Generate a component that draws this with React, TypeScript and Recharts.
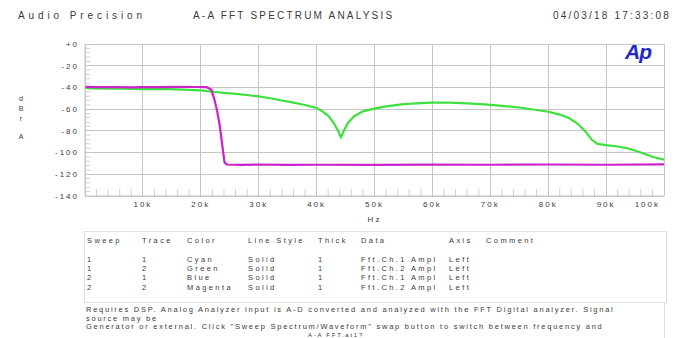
import React from "react";
import {
  LineChart,
  Line,
  XAxis,
  YAxis,
  ReferenceLine,
} from "recharts";

// Fft.Ch.2 Ampl, sweep 1 (green) — [Hz, dBrA]
const GREEN_FREQ = [
  0, 1000, 2000, 4000, 6000, 8000, 10000, 12000, 14000, 16000, 18000, 20000,
  22000, 24000, 26000, 28000, 30000, 32000, 34000, 36000, 38000, 40000, 41000,
  42000, 43000, 43700, 44200, 44700, 45500, 46500, 48000, 50000, 52000, 55000,
  58000, 60000, 63000, 66000, 69000, 72000, 75000, 78000, 80000, 82000, 83500,
  85000, 86500, 87500, 88500, 90000, 92000, 94000, 96000, 98000, 100000,
];
const GREEN_DB = [
  -40.5, -41, -40.8, -41.2, -41, -41.3, -41.5, -41.4, -41.6, -41.8, -42.2, -42.8,
  -44, -45, -46, -47, -48.3, -50, -52, -54, -56.2, -59, -62,
  -66, -73, -80, -86, -80, -72, -66.5, -62, -59.5, -57.5, -55.3,
  -54.4, -54, -54, -54.6, -55.6, -57, -58.5, -60.8, -62.4, -65, -68,
  -73, -81, -88, -92, -93.2, -94.4, -96.5, -100, -103.8, -106.5,
];

// Fft.Ch.2 Ampl, sweep 2 (magenta)
const MAGENTA_FREQ = [
  0, 2000, 5000, 8000, 10000, 13000, 16000, 19000, 21000, 21800, 22300, 22800,
  23300, 23700, 24100, 24500, 27000, 30000, 35000, 40000, 50000, 60000, 70000,
  80000, 90000, 100000,
];
const MAGENTA_DB = [
  -39.5, -39.8, -39.6, -39.9, -39.7, -39.8, -39.5, -39.6, -39.8, -42, -50, -61,
  -76, -93, -109, -111, -111.3, -111, -111.4, -111.2, -111.3, -111.1, -111.2,
  -111, -111.2, -110.8,
];

const X_TICKS = [0, 10000, 20000, 30000, 40000, 50000, 60000, 70000, 80000, 90000, 100000];
const X_MINOR = [
  2000, 4000, 6000, 8000, 12000, 14000, 16000, 18000, 22000, 24000, 26000, 28000,
  32000, 34000, 36000, 38000, 42000, 44000, 46000, 48000, 52000, 54000, 56000, 58000,
  62000, 64000, 66000, 68000, 72000, 74000, 76000, 78000, 82000, 84000, 86000, 88000,
  92000, 94000, 96000, 98000,
];
const Y_TICKS = [0, -20, -40, -60, -80, -100, -120, -140];
const Y_MINOR = [
  -4, -8, -12, -16, -24, -28, -32, -36, -44, -48, -52, -56, -64, -68, -72, -76,
  -84, -88, -92, -96, -104, -108, -112, -116, -124, -128, -132, -136,
];

const TABLE_HEAD = ["Sweep", "Trace", "Color", "Line Style", "Thick", "Data", "Axis", "Comment"];
const TABLE_ROWS = [
  ["1", "1", "Cyan", "Solid", "1", "Fft.Ch.1 Ampl", "Left", ""],
  ["1", "2", "Green", "Solid", "1", "Fft.Ch.2 Ampl", "Left", ""],
  ["2", "1", "Blue", "Solid", "1", "Fft.Ch.1 Ampl", "Left", ""],
  ["2", "2", "Magenta", "Solid", "1", "Fft.Ch.2 Ampl", "Left", ""],
];
const COL_X = [2, 57, 102, 163, 233, 276, 364, 401];

const NOTES = [
  "Requires DSP. Analog Analyzer input is A-D converted and analyzed with the FFT Digital analyzer. Signal",
  "source may be",
  "Generator or external. Click \"Sweep Spectrum/Waveform\" swap button to switch between frequency and",
];

const green = GREEN_FREQ.map((f, i) => ({ f, db: GREEN_DB[i] }));
const magenta = MAGENTA_FREQ.map((f, i) => ({ f, db: MAGENTA_DB[i] }));

const X_MIN = 0;
const X_MAX = 100000;
const Y_MIN = -140;
const Y_MAX = 0;

const FONT = '"Liberation Sans", Arial, sans-serif';
const TEXT = "#3a3a3a";
const GRID = "#c6c6c6";
const MINOR = "#d0d0d0";

// minor tick length in data units (≈ 7 px / 5 px)
const X_MINOR_LEN = 6.5;
const Y_MINOR_LEN = 900;

function fmtY(v: number) {
  return v === 0 ? "+0" : String(v);
}

const tickStyle = { fontSize: 8, fill: TEXT, letterSpacing: 2, fontFamily: FONT };

function FreqTick(props: { x?: number; y?: number; payload?: { value: number } }) {
  const { x = 0, y = 0, payload } = props;
  const v = payload?.value ?? 0;
  if (v === 0) return null;
  const last = v === X_TICKS[X_TICKS.length - 1];
  return (
    <text
      x={last ? x + 2 : x}
      y={y}
      dy="0.71em"
      textAnchor={last ? "end" : "middle"}
      {...tickStyle}
    >
      {`${v / 1000}k`}
    </text>
  );
}

export default function App() {
  return (
    <div
      style={{
        position: "absolute",
        left: 0,
        top: 0,
        width: 682,
        height: 338,
        overflow: "hidden",
        background: "#fff",
        fontFamily: FONT,
        color: TEXT,
      }}
    >
      {/* header */}
      <div style={{ position: "absolute", left: 18, top: 10, fontSize: 10, letterSpacing: 3.9, whiteSpace: "nowrap" }}>
        Audio Precision
      </div>
      <div style={{ position: "absolute", left: 193, top: 10, fontSize: 10, letterSpacing: 2.2, whiteSpace: "nowrap" }}>
        A-A FFT SPECTRUM ANALYSIS
      </div>
      <div style={{ position: "absolute", left: 553, top: 10, fontSize: 10, letterSpacing: 2.2, whiteSpace: "nowrap" }}>
        04/03/18 17:33:08
      </div>

      {/* y unit */}
      <div style={{ position: "absolute", left: 17, top: 94, fontSize: 7, lineHeight: "10px", textAlign: "center", width: 8 }}>
        <div>d</div>
        <div>B</div>
        <div>r</div>
        <div style={{ marginTop: 8 }}>A</div>
      </div>

      <div style={{ position: "absolute", left: 0, top: 0 }}>
        <LineChart width={682} height={226} margin={{ top: 44, right: 18, bottom: 0, left: 20 }}>
          <XAxis
            dataKey="f"
            type="number"
            domain={[X_MIN, X_MAX]}
            ticks={X_TICKS}
            tick={<FreqTick />}
            tickLine={false}
            tickSize={3}
            tickMargin={2}
            axisLine={{ stroke: GRID }}
            height={30}
            label={{ value: "Hz", position: "insideBottom", offset: 4, style: { ...tickStyle } }}
            allowDataOverflow
          />
          <YAxis
            type="number"
            domain={[Y_MIN, Y_MAX]}
            ticks={Y_TICKS}
            tickFormatter={fmtY}
            tick={tickStyle}
            tickLine={false}
            tickSize={4}
            tickMargin={2}
            axisLine={{ stroke: GRID }}
            width={65}
            allowDataOverflow
          />
          {/* major grid */}
          {X_TICKS.map((f) => (
            <ReferenceLine
              key={`xg${f}`}
              segment={[{ x: f, y: Y_MIN }, { x: f, y: Y_MAX }]}
              stroke={GRID}
              strokeWidth={1}
              shapeRendering="crispEdges"
              ifOverflow="visible"
            />
          ))}
          {Y_TICKS.map((v) => (
            <ReferenceLine
              key={`yg${v}`}
              segment={[{ x: X_MIN, y: v }, { x: X_MAX, y: v }]}
              stroke={GRID}
              strokeWidth={1}
              shapeRendering="crispEdges"
              ifOverflow="visible"
            />
          ))}
          {/* minor ticks */}
          {X_MINOR.map((f) => (
            <ReferenceLine
              key={`xm${f}`}
              segment={[{ x: f, y: Y_MIN }, { x: f, y: Y_MIN + X_MINOR_LEN }]}
              stroke={MINOR}
              ifOverflow="visible"
            />
          ))}
          {Y_MINOR.map((v) => (
            <ReferenceLine
              key={`ym${v}`}
              segment={[{ x: X_MIN, y: v }, { x: Y_MINOR_LEN, y: v }]}
              stroke={MINOR}
              ifOverflow="visible"
            />
          ))}
          <Line
            data={green}
            dataKey="db"
            type="linear"
            stroke="#3ee03e"
            strokeWidth={2.2}
            dot={false}
            isAnimationActive={false}
          />
          <Line
            data={magenta}
            dataKey="db"
            type="linear"
            stroke="#cc22cc"
            strokeWidth={2.2}
            dot={false}
            isAnimationActive={false}
          />
        </LineChart>
      </div>

      {/* Ap logo */}
      <div
        style={{
          position: "absolute",
          left: 625,
          top: 40,
          fontSize: 21,
          fontWeight: 700,
          fontStyle: "italic",
          color: "#2228c8",
          letterSpacing: -1,
        }}
      >
        Ap
      </div>

      {/* trace table */}
      <div
        style={{
          position: "absolute",
          left: 84,
          top: 231,
          width: 581,
          height: 70,
          border: "1px solid #e0e0e0",
          fontSize: 7.5,
          letterSpacing: 2.4,
          whiteSpace: "nowrap",
        }}
      >
        {TABLE_HEAD.map((h, c) => (
          <span key={h} style={{ position: "absolute", left: COL_X[c], top: 4 }}>
            {h}
          </span>
        ))}
        {TABLE_ROWS.map((row, r) =>
          row.map((cell, c) => (
            <span key={`${r}-${c}`} style={{ position: "absolute", left: COL_X[c], top: 23 + r * 9.2 }}>
              {cell}
            </span>
          ))
        )}
      </div>

      {/* notes */}
      <div
        style={{
          position: "absolute",
          left: 84,
          top: 302,
          width: 581,
          height: 36,
          borderTop: "1px solid #e0e0e0",
          borderRight: "1px solid #e0e0e0",
          fontSize: 7.5,
          letterSpacing: 1.75,
          lineHeight: "8.5px",
          whiteSpace: "nowrap",
          paddingTop: 3,
          paddingLeft: 2,
          boxSizing: "border-box",
        }}
      >
        {NOTES.map((n) => (
          <div key={n}>{n}</div>
        ))}
        <div style={{ position: "absolute", left: 224, top: 29, fontSize: 6, lineHeight: "6.5px" }}>A-A FFT.at1?</div>
      </div>
    </div>
  );
}
